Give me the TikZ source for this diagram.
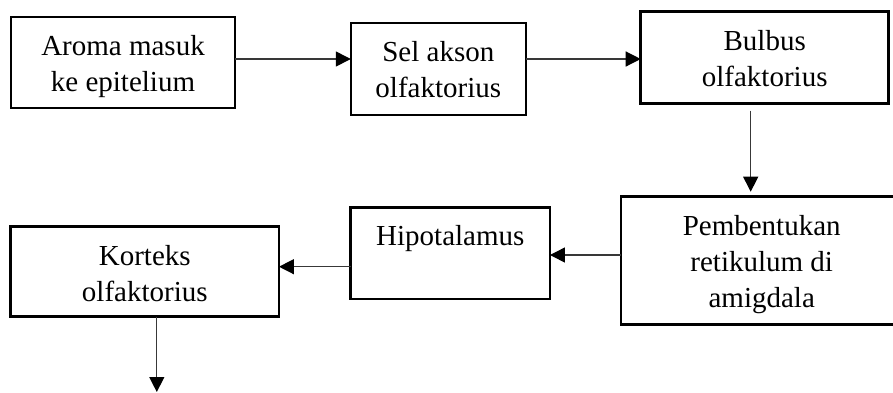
\documentclass[tikz,border=0pt]{standalone}
\usepackage{fontspec}
\setmainfont{Liberation Serif}
\usetikzlibrary{arrows.meta}

% text block inside a box: fixed size, lines centred, first baseline fixed below the top
\newcommand\boxtext[3]{\parbox[c][#2][t]{#1}{\centering\fontsize{29}{36}\selectfont\rule{0pt}{38.5pt}#3}}

\tikzset{
  stage/.style={draw=black, line width=2.6pt, rectangle, inner sep=0pt, outer sep=0pt},
  flow/.style={draw=black!78, line width=1.3pt,
    -{Triangle[length=15pt, width=15pt, fill=black, color=black]}}
}

\begin{document}
\begin{tikzpicture}[x=1pt, y=-1pt]
  \useasboundingbox (0,0) rectangle (893,392);

  % process stages
  \node[stage] (aroma) at (123,62.5) {\boxtext{224pt}{91pt}{Aroma masuk\\ke epitelium}};
  \node[stage] (akson) at (438.3,68.8) {\boxtext{175pt}{92pt}{Sel akson\\olfaktorius}};
  \node[stage] (bulbus) at (764.7,57.5) {\boxtext{248pt}{91.6pt}{Bulbus\\olfaktorius}};
  \node[stage] (retik) at (761.7,260.6) {\boxtext{281.4pt}{127.8pt}{Pembentukan\\retikulum di\\amigdala}};
  \node[stage] (hipo) at (450.3,253.2) {\boxtext{199.3pt}{91.5pt}{Hipotalamus}};
  \node[stage] (korteks) at (144.8,271.7) {\boxtext{268.3pt}{90pt}{Korteks\\olfaktorius}};

  % connector start points
  \coordinate (c1) at ([yshift=3.5pt]aroma.east);
  \coordinate (c2) at ([yshift=9.8pt]akson.east);
  \coordinate (c3) at ([xshift=-14pt]bulbus.south);
  \coordinate (c4) at ([yshift=5.6pt]retik.west);
  \coordinate (c5) at ([yshift=-13.5pt]hipo.west);
  \coordinate (c6) at ([xshift=12pt]korteks.south);
  \coordinate (out) at (c6 |- 0,392);

  \draw[flow] (c1) -- (c1 -| akson.west);
  \draw[flow] (c2) -- (c2 -| bulbus.west);
  \draw[flow, shorten <=7.4pt, shorten >=5pt] (c3) -- (c3 |- retik.north);
  \draw[flow] (c4) -- (c4 -| hipo.east);
  \draw[flow] (c5) -- (c5 -| korteks.east);
  \draw[flow] (c6) -- (out);
\end{tikzpicture}
\end{document}
